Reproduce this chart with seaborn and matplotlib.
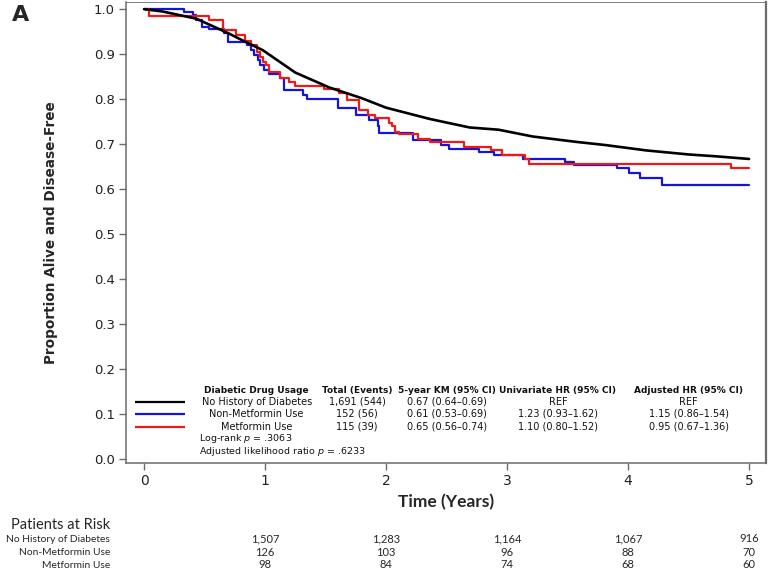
import matplotlib
matplotlib.use("Agg")
import matplotlib.pyplot as plt
import matplotlib.transforms as mtransforms
import pandas as pd
import seaborn as sns

# Kaplan-Meier estimates
none_time = [0.0, 0.15, 0.43, 0.70, 0.84, 0.98, 1.25, 1.53, 1.80, 2.00, 2.36,
             2.69, 2.93, 3.21, 3.57, 3.81, 4.15, 4.50, 4.72, 5.00]
none_surv = [1.000, 0.995, 0.979, 0.946, 0.927, 0.909, 0.859, 0.826, 0.802, 0.781,
             0.756, 0.737, 0.732, 0.717, 0.705, 0.698, 0.686, 0.677, 0.673, 0.667]

nonmet_time = [0.0, 0.33, 0.40, 0.43, 0.48, 0.54, 0.66, 0.69, 0.85, 0.88, 0.91,
               0.94, 0.96, 0.99, 1.03, 1.12, 1.16, 1.31, 1.35, 1.60, 1.75, 1.86,
               1.93, 1.94, 2.22, 2.45, 2.52, 2.77, 2.89, 3.13, 3.48, 3.55, 3.91,
               4.01, 4.10, 4.28, 5.00]
nonmet_surv = [1.000, 0.993, 0.986, 0.975, 0.960, 0.957, 0.946, 0.927, 0.920, 0.909,
               0.898, 0.887, 0.876, 0.865, 0.857, 0.846, 0.820, 0.809, 0.801, 0.780,
               0.765, 0.754, 0.740, 0.725, 0.710, 0.699, 0.690, 0.683, 0.675, 0.667,
               0.660, 0.653, 0.646, 0.636, 0.624, 0.610, 0.610]

met_time = [0.0, 0.04, 0.54, 0.65, 0.76, 0.83, 0.88, 0.93, 0.96, 0.98, 1.01, 1.03,
            1.12, 1.20, 1.25, 1.49, 1.61, 1.68, 1.78, 1.85, 1.91, 2.02, 2.05, 2.07,
            2.11, 2.26, 2.36, 2.64, 2.87, 2.96, 3.15, 3.18, 4.85, 5.00]
met_surv = [1.000, 0.985, 0.975, 0.953, 0.942, 0.930, 0.920, 0.905, 0.893, 0.883,
            0.876, 0.861, 0.846, 0.839, 0.830, 0.823, 0.813, 0.797, 0.776, 0.765,
            0.758, 0.747, 0.740, 0.728, 0.723, 0.712, 0.704, 0.693, 0.686, 0.675,
            0.666, 0.656, 0.648, 0.648]

# summary table
groups = ["No History of Diabetes", "Non-Metformin Use", "Metformin Use"]
total_events = ["1,691 (544)", "152 (56)", "115 (39)"]
km_5yr = ["0.67 (0.64\u20130.69)", "0.61 (0.53\u20130.69)", "0.65 (0.56\u20130.74)"]
uni_hr = ["REF", "1.23 (0.93\u20131.62)", "1.10 (0.80\u20131.52)"]
adj_hr = ["REF", "1.15 (0.86\u20131.54)", "0.95 (0.67\u20131.36)"]
col_headers = ["Diabetic Drug Usage", "Total (Events)", "5-year KM (95% CI)",
               "Univariate HR (95% CI)", "Adjusted HR (95% CI)"]

# patients at risk
risk_times = [1, 2, 3, 4, 5]
risk_none = [1507, 1283, 1164, 1067, 916]
risk_nonmet = [126, 103, 96, 88, 70]
risk_met = [98, 84, 74, 68, 60]

colors = ["#000000", "#1414dc", "#ee1a1a"]

sns.set_style("ticks")
plt.rcParams["font.family"] = ["DejaVu Sans"]

fig = plt.figure(figsize=(7.7, 5.69), dpi=100)
ax = fig.add_axes([0.1636, 0.1863, 0.8312, 0.8102])

none_df = pd.DataFrame({"time": none_time, "surv": none_surv})
nonmet_df = pd.DataFrame({"time": nonmet_time, "surv": nonmet_surv})
met_df = pd.DataFrame({"time": met_time, "surv": met_surv})

sns.lineplot(data=none_df, x="time", y="surv", ax=ax, color=colors[0],
             linewidth=1.9, estimator=None, zorder=3)
sns.lineplot(data=nonmet_df, x="time", y="surv", ax=ax, color=colors[1],
             linewidth=1.6, estimator=None, drawstyle="steps-post", zorder=2)
sns.lineplot(data=met_df, x="time", y="surv", ax=ax, color=colors[2],
             linewidth=1.6, estimator=None, drawstyle="steps-post", zorder=2)

ax.set_xlim(-0.15, 5.14)
ax.set_ylim(-0.009, 1.016)
ax.set_xticks(range(0, 6))
ax.set_yticks([i / 10 for i in range(0, 11)])
ax.set_yticklabels([f"{i / 10:.1f}" for i in range(0, 11)])

for side in ["left", "bottom", "right", "top"]:
    ax.spines[side].set_color("#6b6b6b")
    ax.spines[side].set_linewidth(1.1)
ax.spines["top"].set_linewidth(0.6)
ax.spines["right"].set_linewidth(1.6)
ax.tick_params(axis="both", direction="out", length=5, width=1, color="#6b6b6b",
               labelsize=10, labelcolor="#222222", pad=3)
ax.tick_params(axis="y", labelsize=9.5)

ax.set_ylabel("Proportion Alive and Disease-Free", fontsize=9.8, fontweight="bold")
ax.yaxis.set_label_coords(-0.106, 0.5)
ax.set_xlabel("Time (Years)", fontsize=12.5, fontweight="bold", family=["Lato", "DejaVu Sans"])
ax.xaxis.set_label_coords(0.5, -0.068)

# summary table inside the plot
row_y = [0.127, 0.100, 0.072]
header_y = 0.152
col_x = [0.93, 1.76, 2.50, 3.42, 4.50]
tfont = dict(fontsize=7, ha="center", va="center", color="#111111")
for x, h in zip(col_x, col_headers):
    ax.text(x, header_y, h, fontweight="bold", fontsize=6.5, ha="center", va="center",
            color="#111111")
for i, y in enumerate(row_y):
    ax.plot([-0.075, 0.34], [y, y], color=colors[i], linewidth=1.6, solid_capstyle="butt")
    for x, val in zip(col_x, [groups[i], total_events[i], km_5yr[i], uni_hr[i], adj_hr[i]]):
        ax.text(x, y, val, **tfont)
ax.text(0.455, 0.046, "Log-rank $p$ = .3063", fontsize=6.8, ha="left", va="center",
        color="#111111")
ax.text(0.455, 0.016, "Adjusted likelihood ratio $p$ = .6233", fontsize=6.8, ha="left",
        va="center", color="#111111")

# panel letter
fig.text(12 / 770, 1 - 15 / 569, "A", fontsize=16, fontweight="bold", ha="left", va="center")

# patients at risk
risk_font = ["Lato", "DejaVu Sans"]
fig.text(110 / 770, 1 - 525 / 569, "Patients at Risk", fontsize=10.5, ha="right", va="center",
         family=risk_font)
trans = mtransforms.blended_transform_factory(ax.transData, fig.transFigure)
risk_rows = [risk_none, risk_nonmet, risk_met]
risk_y = [539, 552.5, 565]
for label, counts, py in zip(groups, risk_rows, risk_y):
    yf = 1 - py / 569
    fig.text(110 / 770, yf, label, fontsize=7.4, ha="right", va="center", family=risk_font)
    for t, n in zip(risk_times, counts):
        ax.text(t, yf, f"{n:,}", transform=trans, fontsize=8, ha="center", va="center",
                family=risk_font)

fig.savefig("out.png", dpi=100)
